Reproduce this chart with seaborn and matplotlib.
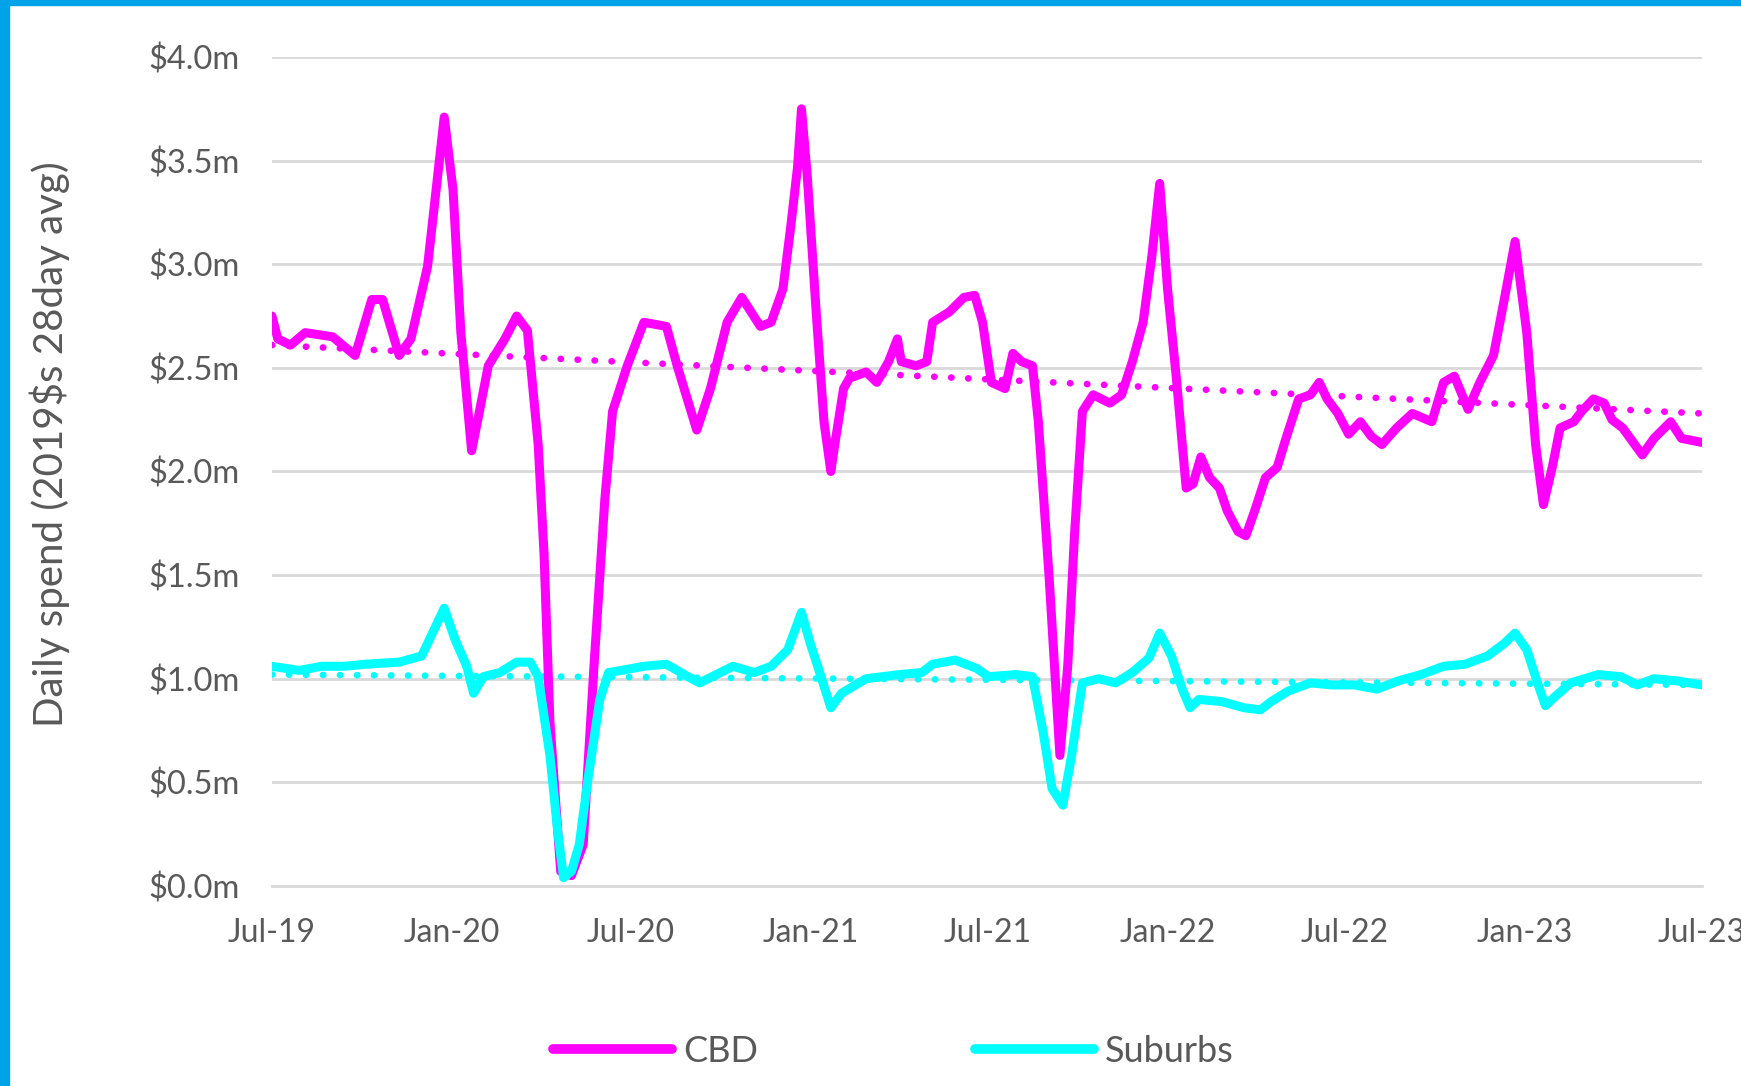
import pandas as pd
import numpy as np
import matplotlib
matplotlib.use('Agg')
import matplotlib.pyplot as plt
import matplotlib.dates as mdates
from matplotlib.patches import Rectangle
from matplotlib.lines import Line2D
from matplotlib.ticker import FuncFormatter
import seaborn as sns

#########################
#
# daily spend, CBD vs suburbs (28 day avg, 2019 $)
#
#########################

cbd_dates = [
    '2019-07-01', '2019-07-07', '2019-07-20', '2019-08-04', '2019-09-01', '2019-09-24',
    '2019-10-11', '2019-10-22', '2019-11-08', '2019-11-20', '2019-12-07', '2019-12-24',
    '2020-01-02', '2020-01-10', '2020-01-21', '2020-01-29', '2020-02-07', '2020-02-24',
    '2020-03-07', '2020-03-18', '2020-03-29', '2020-04-04', '2020-04-10', '2020-04-21',
    '2020-05-02', '2020-05-14', '2020-05-25', '2020-06-05', '2020-06-13', '2020-06-28',
    '2020-07-15', '2020-08-07', '2020-08-18', '2020-09-07', '2020-09-21', '2020-10-08',
    '2020-10-23', '2020-11-11', '2020-11-22', '2020-12-04', '2020-12-12', '2020-12-19',
    '2020-12-23', '2020-12-29', '2021-01-07', '2021-01-15', '2021-01-22', '2021-01-26',
    '2021-02-04', '2021-02-10', '2021-02-27', '2021-03-10', '2021-03-22', '2021-03-31',
    '2021-04-04', '2021-04-19', '2021-04-30', '2021-05-06', '2021-05-23', '2021-06-07',
    '2021-06-18', '2021-06-26', '2021-07-05', '2021-07-19', '2021-07-27', '2021-08-05',
    '2021-08-16', '2021-08-22', '2021-09-02', '2021-09-13', '2021-09-21', '2021-09-28',
    '2021-10-06', '2021-10-17', '2021-11-03', '2021-11-15', '2021-11-26', '2021-12-07',
    '2021-12-16', '2021-12-24', '2022-01-01', '2022-01-10', '2022-01-20', '2022-01-27',
    '2022-02-04', '2022-02-13', '2022-02-23', '2022-03-03', '2022-03-14', '2022-03-22',
    '2022-03-31', '2022-04-11', '2022-04-23', '2022-05-02', '2022-05-15', '2022-05-27',
    '2022-06-05', '2022-06-13', '2022-06-24', '2022-07-05', '2022-07-17', '2022-07-28',
    '2022-08-08', '2022-08-23', '2022-09-08', '2022-09-28', '2022-10-10', '2022-10-21',
    '2022-11-04', '2022-11-16', '2022-11-30', '2022-12-11', '2022-12-22', '2023-01-03',
    '2023-01-12', '2023-01-20', '2023-01-29', '2023-02-06', '2023-02-20', '2023-02-28',
    '2023-03-12', '2023-03-23', '2023-03-31', '2023-04-11', '2023-05-01', '2023-05-13',
    '2023-05-30', '2023-06-10', '2023-07-01',
]
cbd_values = [
    2.75, 2.64, 2.61, 2.67, 2.65, 2.56,
    2.83, 2.83, 2.56, 2.64, 2.99, 3.71,
    3.36, 2.67, 2.10, 2.29, 2.51, 2.64,
    2.75, 2.68, 2.13, 1.60, 0.79, 0.07,
    0.05, 0.20, 1.06, 1.86, 2.29, 2.51,
    2.72, 2.70, 2.51, 2.20, 2.40, 2.72,
    2.84, 2.70, 2.72, 2.88, 3.18, 3.47,
    3.75, 3.42, 2.77, 2.24, 2.00, 2.13,
    2.40, 2.45, 2.48, 2.43, 2.53, 2.64,
    2.53, 2.51, 2.53, 2.72, 2.77, 2.84,
    2.85, 2.72, 2.43, 2.40, 2.57, 2.53,
    2.51, 2.24, 1.49, 0.63, 1.06, 1.70,
    2.29, 2.37, 2.33, 2.37, 2.53, 2.72,
    3.04, 3.39, 2.88, 2.45, 1.92, 1.94,
    2.07, 1.97, 1.92, 1.81, 1.71, 1.69,
    1.81, 1.97, 2.02, 2.16, 2.35, 2.37,
    2.43, 2.35, 2.28, 2.18, 2.24, 2.17,
    2.13, 2.21, 2.28, 2.24, 2.43, 2.46,
    2.30, 2.43, 2.56, 2.83, 3.11, 2.67,
    2.13, 1.84, 2.02, 2.21, 2.24, 2.29,
    2.35, 2.33, 2.25, 2.21, 2.08, 2.16,
    2.24, 2.16, 2.14,
]

sub_dates = [
    '2019-07-01', '2019-07-29', '2019-08-21', '2019-09-13', '2019-10-05', '2019-11-08',
    '2019-12-01', '2019-12-12', '2019-12-24', '2020-01-04', '2020-01-16', '2020-01-23',
    '2020-02-02', '2020-02-19', '2020-03-07', '2020-03-21', '2020-03-29', '2020-04-10',
    '2020-04-18', '2020-04-24', '2020-05-02', '2020-05-10', '2020-05-19', '2020-05-31',
    '2020-06-09', '2020-06-22', '2020-07-15', '2020-08-07', '2020-08-29', '2020-09-10',
    '2020-09-27', '2020-10-14', '2020-11-05', '2020-11-22', '2020-12-09', '2020-12-23',
    '2021-01-01', '2021-01-12', '2021-01-22', '2021-02-02', '2021-02-27', '2021-04-02',
    '2021-04-25', '2021-05-06', '2021-05-29', '2021-06-20', '2021-07-02', '2021-07-30',
    '2021-08-16', '2021-08-27', '2021-09-05', '2021-09-16', '2021-09-25', '2021-10-06',
    '2021-10-23', '2021-11-09', '2021-11-26', '2021-12-13', '2021-12-24', '2022-01-05',
    '2022-01-16', '2022-01-24', '2022-02-02', '2022-02-25', '2022-03-20', '2022-04-06',
    '2022-04-17', '2022-05-04', '2022-05-27', '2022-06-18', '2022-07-11', '2022-08-03',
    '2022-08-25', '2022-09-17', '2022-10-10', '2022-11-01', '2022-11-24', '2022-12-11',
    '2022-12-22', '2023-01-03', '2023-01-14', '2023-01-22', '2023-01-31', '2023-02-17',
    '2023-03-17', '2023-04-09', '2023-04-26', '2023-05-13', '2023-06-05', '2023-07-01',
]
sub_values = [
    1.06, 1.04, 1.06, 1.06, 1.07, 1.08,
    1.11, 1.22, 1.34, 1.19, 1.06, 0.93,
    1.01, 1.03, 1.08, 1.08, 1.01, 0.63,
    0.26, 0.04, 0.07, 0.20, 0.52, 0.90,
    1.03, 1.04, 1.06, 1.07, 1.01, 0.98,
    1.02, 1.06, 1.03, 1.06, 1.14, 1.32,
    1.17, 1.01, 0.86, 0.93, 1.00, 1.02,
    1.03, 1.07, 1.09, 1.05, 1.01, 1.02,
    1.01, 0.74, 0.47, 0.39, 0.63, 0.98,
    1.00, 0.98, 1.03, 1.10, 1.22, 1.11,
    0.95, 0.86, 0.90, 0.89, 0.86, 0.85,
    0.89, 0.94, 0.98, 0.97, 0.97, 0.95,
    0.99, 1.02, 1.06, 1.07, 1.11, 1.17,
    1.22, 1.14, 0.98, 0.87, 0.91, 0.98,
    1.02, 1.01, 0.97, 1.00, 0.99, 0.97,
]

# linear trend lines (start / end values)
trend_dates = ['2019-07-01', '2023-07-01']
cbd_trend = [2.61, 2.28]
sub_trend = [1.02, 0.97]

series_names = ['CBD', 'Suburbs']
colours = {'CBD': '#FF00FF', 'Suburbs': '#00FFFF'}
ylabel = 'Daily spend (2019$s 28day avg)'

grid_grey = '#D9D9D9'
text_grey = '#595959'

df = pd.concat([
    pd.DataFrame({'date': pd.to_datetime(cbd_dates), 'value': cbd_values, 'series': 'CBD'}),
    pd.DataFrame({'date': pd.to_datetime(sub_dates), 'value': sub_values, 'series': 'Suburbs'}),
], ignore_index=True)

sns.set_style('white')
plt.rcParams['font.family'] = ['Lato', 'DejaVu Sans']

fig = plt.figure(figsize=(17.41, 10.86), dpi=100)
ax = fig.add_axes([0.1562, 0.1842, 0.8214, 0.7633])

# trend lines (dotted)
for name, trend in zip(series_names, [cbd_trend, sub_trend]):
    sns.lineplot(x=pd.to_datetime(trend_dates), y=trend, color=colours[name],
                 linewidth=4.8, linestyle=(0, (0.05, 2.5)),
                 dash_capstyle='round', ax=ax)

sns.lineplot(data=df, x='date', y='value', hue='series', hue_order=series_names,
             palette=colours, linewidth=6.5, legend=False, ax=ax,
             solid_joinstyle='round', solid_capstyle='round')

ax.set_xlim(pd.Timestamp('2019-07-01'), pd.Timestamp('2023-07-01'))
ax.set_ylim(0, 4.0)
ax.set_yticks(np.arange(0, 4.01, 0.5))
ax.yaxis.set_major_formatter(FuncFormatter(lambda v, p: f'${v:.1f}m'))
ax.xaxis.set_major_locator(mdates.MonthLocator(bymonth=[1, 7]))
ax.xaxis.set_major_formatter(mdates.DateFormatter('%b-%y'))

ax.grid(axis='y', color=grid_grey, linewidth=2.0)
ax.grid(axis='x', visible=False)
ax.set_axisbelow(True)
for side in ['left', 'right', 'top']:
    ax.spines[side].set_visible(False)
ax.spines['bottom'].set_color(grid_grey)
ax.spines['bottom'].set_linewidth(2.0)

ax.tick_params(axis='y', length=0, pad=23, labelsize=23.5, labelcolor=text_grey)
ax.tick_params(axis='x', length=7, width=2.0, color=grid_grey, pad=16,
               labelsize=23, labelcolor=text_grey, direction='out')
ax.set_xlabel('')
ax.set_ylabel('')

fig.text(50 / 1741, 1 - 444 / 1086, ylabel, rotation=90, ha='center', va='center',
         fontsize=29, color=text_grey)

handles = [Line2D([], [], color=colours[n], linewidth=7, solid_capstyle='round')
           for n in series_names]
fig.legend(handles, series_names, loc='center', bbox_to_anchor=(0.513, 0.032), ncol=2,
           frameon=False, fontsize=26, labelcolor=text_grey, handlelength=3.3,
           handletextpad=0.3, columnspacing=6.0)

# blue frame on the top and left edges
fig.patches.append(Rectangle((0, 1 - 5 / 1086), 1, 5 / 1086, transform=fig.transFigure,
                             color='#00A2E8', zorder=10))
fig.patches.append(Rectangle((0, 0), 9 / 1741, 1, transform=fig.transFigure,
                             color='#00A2E8', zorder=10))

plt.savefig('out.png', dpi=100)
plt.close(fig)
